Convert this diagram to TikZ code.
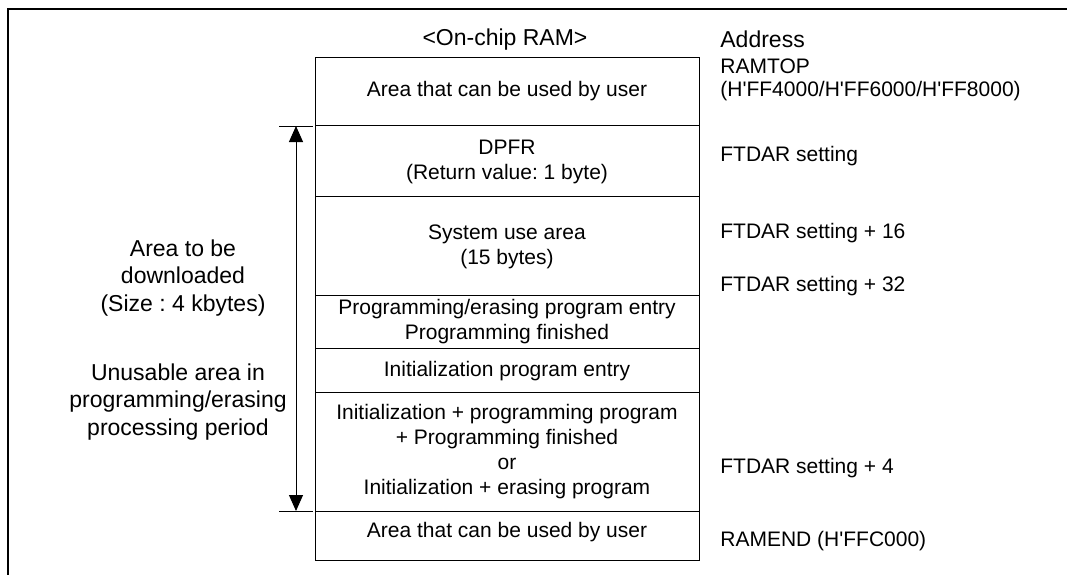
\documentclass[tikz,border=0pt]{standalone}
\usepackage{fontspec}
\setmainfont{Liberation Sans}[Ligatures=TeXOff]
\usetikzlibrary{arrows.meta}
\frenchspacing
\begin{document}
\begin{tikzpicture}[x=0.5pt,y=-0.5pt,
  txt/.style={font=\fontsize{10.5pt}{12.5pt}\selectfont, inner sep=0pt, align=center},
  big/.style={font=\fontsize{11.5pt}{13.75pt}\selectfont, inner sep=0pt, align=center},
  addr/.style={font=\fontsize{10.5pt}{12.5pt}\selectfont, inner sep=0pt, anchor=west, align=left},
  rowbox/.style={draw, line width=0.5pt},
  tick/.style={draw, line width=0.5pt},
  dim/.style={line width=0.5pt, {Triangle[length=8pt,width=7pt]}-{Triangle[length=8pt,width=7pt]}}]
\useasboundingbox (0,0) rectangle (1067,575);
% frame
\draw[line width=1pt] (1067,8.5) -- (8,8.5) -- (8,575);
% memory rows
\draw[rowbox] (315,57) rectangle (699,125.5);
\draw[rowbox] (315,125.5) rectangle (699,196.5);
\draw[rowbox] (315,196.5) rectangle (699,295.5);
\draw[rowbox] (315,295.5) rectangle (699,348);
\draw[rowbox] (315,348) rectangle (699,392);
\draw[rowbox] (315,392) rectangle (699,511);
\draw[rowbox] (315,511) rectangle (699,560);
\node[big] (title) at (505,40) {<On-chip RAM>};
\node[txt] (r1) at (507,91) {Area that can be used by user};
\node[txt] (r2) at (507,162) {DPFR\\(Return value: 1 byte)};
\node[txt] (r3) at (507,247) {System use area\\(15 bytes)};
\node[txt] (r4) at (507,322) {Programming/erasing program entry\\Programming finished};
\node[txt] (r5) at (507,371) {Initialization program entry};
\node[txt] (r6) at (507,452) {Initialization + programming program\\+ Programming finished\\or\\Initialization + erasing program};
\node[txt] (r7) at (507,532) {Area that can be used by user};
% addresses
\node[big, anchor=west] (a0) at (720,39) {Address};
\node[addr] (a1) at (720,66) {RAMTOP};
\node[addr] (a2) at (720,91) {(H'FF4000/H'FF6000/H'FF8000)};
\node[addr] (a3) at (720,156) {FTDAR setting};
\node[addr] (a4) at (720,233) {FTDAR setting + 16};
\node[addr] (a5) at (720,286) {FTDAR setting + 32};
\node[addr] (a6) at (720,468) {FTDAR setting + 4};
\node[addr] (a7) at (720,541) {RAMEND (H'FFC000)};
% dimension arrow
\coordinate (t1) at (279,126);
\coordinate (t2) at (313,126);
\coordinate (b1) at (279,511);
\coordinate (b2) at (313,511);
\coordinate (at) at (296,126);
\coordinate (ab) at (296,511);
\draw[tick] (t1) -- (t2);
\draw[tick] (b1) -- (b2);
\draw[dim] (at) -- (ab);
% left labels
\node[big] (l1) at (183,278) {Area to be\\downloaded\\(Size : 4 kbytes)};
\node[big] (l2) at (178,402) {Unusable area in\\programming/erasing\\processing period};
\end{tikzpicture}
\end{document}
